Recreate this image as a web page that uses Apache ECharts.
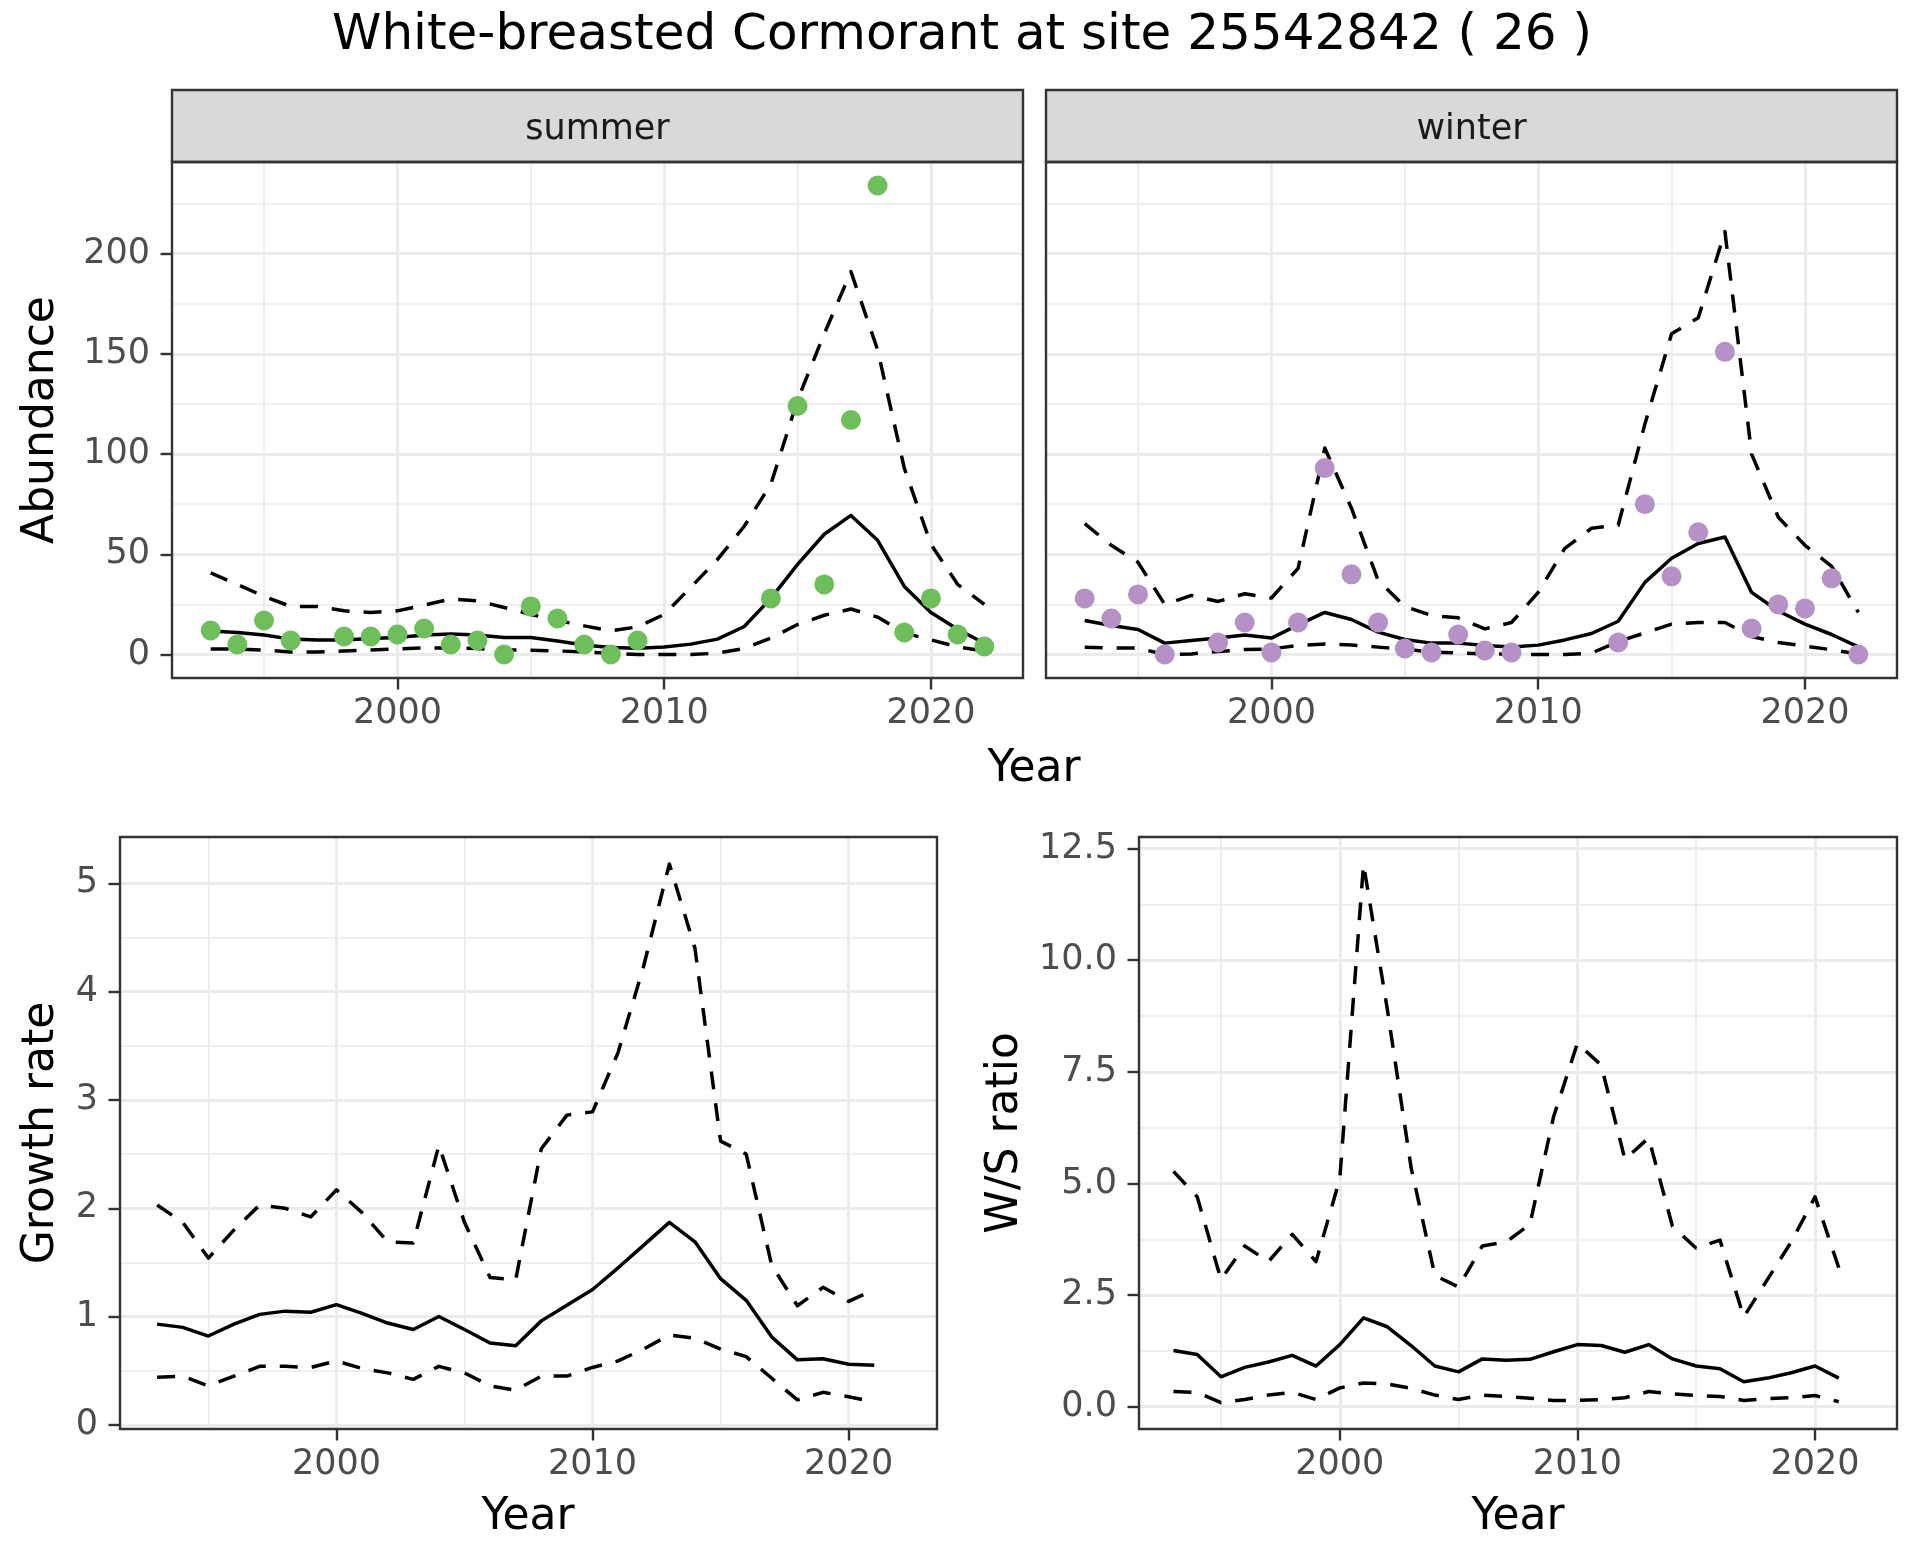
<!DOCTYPE html>
<html>
<head>
<meta charset="utf-8">
<script src="https://cdn.jsdelivr.net/npm/echarts@6/dist/echarts.min.js"></script>
<style>
html,body{margin:0;padding:0;background:#ffffff;}
#chart{width:1920px;height:1560px;}
</style>
</head>
<body>
<div id="chart"></div>
<script>
// ---------------- DATA ----------------
const years = [1993,1994,1995,1996,1997,1998,1999,2000,2001,2002,2003,2004,2005,2006,2007,2008,2009,2010,2011,2012,2013,2014,2015,2016,2017,2018,2019,2020,2021,2022];

const summerObs  = [12,5,17,7,null,9,9,10,13,5,7,0,24,18,5,0,7,null,null,null,null,28,124,35,117,234,11,28,10,4];
const summerMean = [11.8,11,9.7,7.7,7.2,7.3,8,8.5,9.7,10.2,9.7,8.5,8.5,6.8,4.8,3.5,3.2,3.8,5.2,7.7,14,28,45,60,69.4,57,34,21,12.6,5.6];
const summerLow  = [2.8,2.8,2.2,1.3,1.3,1.8,2.3,2.8,3.3,3.3,3,2.3,2.2,1.8,1.3,0.7,0,0,0,0.7,3,8.2,15,19.6,22.7,18.7,10.8,7.3,3.8,1.7];
const summerHigh = [40.7,35,29,24,24,21.8,21,21.8,24.7,27.7,26.8,23.5,20,17,14.3,11.8,13.8,20,33.6,47.5,64,85,127,160,191,152,93,55,35,25];

const winterObs  = [28,18,30,0,null,6,16,1,16,93,40,16,3,1,10,2,1,null,null,null,6,75,39,61,151,13,25,23,38,0];
const winterMean = [17,14.5,12.5,5.7,7,8.2,9.8,8.2,14.8,21,17.5,11.2,7.5,5.7,5.7,4.5,3.8,4.7,7.3,10.5,16.6,36,48,55.4,58.6,31,21.7,15.2,10,3.8];
const winterLow  = [3.7,3.3,3.2,0,0.3,1.5,2.5,2.8,4.5,5.3,4.8,3.7,2.8,1.2,0.8,0.3,0.3,0,0,0.7,6.5,10.8,15.2,16,16,9,6,4.2,2.4,0.3];
const winterHigh = [65.3,54.5,46,25,29.5,26.5,30.3,28.2,43,103,73,37,24,19.5,18.3,12.8,16,31,53,63,64.5,115,160,168,211,100,68.5,54.5,44,21];

const rateYears = [1993,1994,1995,1996,1997,1998,1999,2000,2001,2002,2003,2004,2005,2006,2007,2008,2009,2010,2011,2012,2013,2014,2015,2016,2017,2018,2019,2020,2021];
const growthMean = [0.93,0.90,0.82,0.93,1.02,1.05,1.04,1.11,1.03,0.94,0.88,1.00,0.88,0.755,0.73,0.96,1.105,1.25,1.45,1.66,1.87,1.69,1.35,1.15,0.81,0.60,0.61,0.56,0.55];
const growthLow  = [0.44,0.45,0.36,0.45,0.54,0.54,0.53,0.59,0.52,0.48,0.42,0.54,0.48,0.36,0.32,0.45,0.45,0.53,0.59,0.70,0.83,0.80,0.70,0.63,0.43,0.23,0.30,0.26,0.21];
const growthHigh = [2.03,1.87,1.54,1.80,2.03,2.0,1.92,2.17,1.96,1.69,1.68,2.58,1.87,1.36,1.34,2.55,2.86,2.89,3.44,4.24,5.18,4.4,2.62,2.5,1.47,1.1,1.27,1.14,1.25];

const ratioMean = [1.26,1.17,0.67,0.88,1.0,1.15,0.91,1.39,1.99,1.79,1.37,0.91,0.78,1.07,1.04,1.06,1.23,1.39,1.37,1.22,1.39,1.07,0.91,0.85,0.56,0.64,0.76,0.91,0.64];
const ratioLow  = [0.34,0.32,0.09,0.16,0.26,0.32,0.16,0.42,0.53,0.51,0.41,0.26,0.16,0.26,0.23,0.19,0.14,0.14,0.16,0.2,0.34,0.29,0.25,0.23,0.14,0.18,0.2,0.25,0.11];
const ratioHigh = [5.27,4.7,2.85,3.6,3.25,3.86,3.25,5.1,12.15,8.9,5.36,2.94,2.68,3.6,3.69,4.08,6.5,8.14,7.65,5.54,6.02,4.04,3.55,3.73,2.01,2.85,3.69,4.7,3.11];

const yearTicks = [2000, 2010, 2020];
const abundanceTicks = [0, 50, 100, 150, 200];
const growthTicks = [0, 1, 2, 3, 4, 5];
const ratioTicks = [0, 2.5, 5, 7.5, 10, 12.5];

const titleText = 'White-breasted Cormorant at site 25542842 ( 26 )';
const facetNames = ['summer', 'winter'];

// ---------------- LAYOUT / STYLE ----------------
const FONT = 'DejaVu Sans';
const panels = [
  {left: 172, top: 162, width: 851, height: 516},   // summer
  {left: 1046, top: 162, width: 851, height: 516},  // winter
  {left: 120, top: 837, width: 817, height: 592},   // growth
  {left: 1139, top: 837, width: 758, height: 592}   // ratio
];
const stripTop = 90, stripH = 72;
const green = '#6FBE5C', purple = '#B591C8';
const grid92 = '#EBEBEB', dark = '#333333';

function pairs(xs, ys) { return xs.map((x, i) => [x, ys[i]]); }

function xAxisFor(gi) {
  return {
    type: 'value', gridIndex: gi, position: 'bottom', min: 1991.55, max: 2023.45,
    minInterval: 10, maxInterval: 10, splitNumber: 3,
    axisLine: {show: false, onZero: false},
    axisTick: {show: true, inside: false, customValues: yearTicks, length: 11.5, lineStyle: {color: dark, width: 2.4}},
    axisLabel: {show: true, customValues: yearTicks, margin: 18, fontFamily: FONT, fontSize: 35, color: '#4D4D4D',
      formatter: v => String(Math.round(v))},
    splitLine: {show: true, lineStyle: {color: grid92, width: 3}},
    minorTick: {show: false, splitNumber: 2},
    minorSplitLine: {show: true, lineStyle: {color: grid92, width: 1.7}}
  };
}
function yAxisFor(gi, min, max, step, ticks, showLabels, fmt) {
  return {
    type: 'value', gridIndex: gi, position: 'left', min: min, max: max,
    minInterval: step, maxInterval: step, splitNumber: 5,
    axisLine: {show: false, onZero: false},
    axisTick: {show: showLabels, inside: false, customValues: ticks, length: 11.5, lineStyle: {color: dark, width: 2.4}},
    axisLabel: {show: showLabels, customValues: ticks, margin: 22, fontFamily: FONT, fontSize: 35, color: '#4D4D4D',
      formatter: fmt || (v => String(v))},
    splitLine: {show: true, lineStyle: {color: grid92, width: 3}},
    minorTick: {show: false, splitNumber: 2},
    minorSplitLine: {show: true, lineStyle: {color: grid92, width: 1.7}}
  };
}
function lineSeries(gi, xs, ys, dashed) {
  return {
    type: 'line', xAxisIndex: gi, yAxisIndex: gi, data: pairs(xs, ys),
    showSymbol: false, symbol: 'none', connectNulls: false, z: 3,
    lineStyle: {color: '#000000', width: 3.5, type: dashed ? [18, 14] : 'solid', cap: 'butt', join: 'round'},
    emphasis: {disabled: true}, animation: false
  };
}
function pointSeries(gi, xs, ys, color) {
  return {
    type: 'scatter', xAxisIndex: gi, yAxisIndex: gi,
    data: pairs(xs, ys).filter(p => p[1] !== null),
    symbol: 'circle', symbolSize: 20, itemStyle: {color: color, opacity: 1}, z: 4,
    emphasis: {disabled: true}, animation: false
  };
}

const graphics = [];
graphics.push({type: 'text', x: 962, y: 36, z: 100,
  style: {text: titleText, fontFamily: FONT, fontSize: 50, fill: '#000000', textAlign: 'center', textVerticalAlign: 'middle'}});
[0, 1].forEach(i => {
  const p = panels[i];
  graphics.push({type: 'rect', z: 100, shape: {x: p.left, y: stripTop, width: p.width, height: stripH},
    style: {fill: '#D9D9D9', stroke: dark, lineWidth: 2.4}});
  graphics.push({type: 'text', z: 101, x: p.left + p.width / 2, y: stripTop + stripH / 2 + 4,
    style: {text: facetNames[i], fontFamily: FONT, fontSize: 35, fill: '#1A1A1A', textAlign: 'center', textVerticalAlign: 'middle'}});
});
panels.forEach(p => {
  graphics.push({type: 'rect', z: 100, silent: true, shape: {x: p.left, y: p.top, width: p.width, height: p.height},
    style: {fill: null, stroke: dark, lineWidth: 2.4}});
});
function axisTitle(text, x, y, rotate) {
  graphics.push({type: 'text', z: 100, x: x, y: y, rotation: rotate ? Math.PI / 2 : 0,
    style: {text: text, fontFamily: FONT, fontSize: 44, fill: '#000000', textAlign: 'center', textVerticalAlign: 'middle'}});
}
axisTitle('Abundance', 42, 420, true);
axisTitle('Year', 1034, 770, false);
axisTitle('Growth rate', 42, 1133, true);
axisTitle('W/S ratio', 1006, 1133, true);
axisTitle('Year', 528, 1518, false);
axisTitle('Year', 1518, 1518, false);

const option = {
  animation: false,
  backgroundColor: '#ffffff',
  grid: panels.map(p => ({left: p.left, top: p.top, width: p.width, height: p.height, containLabel: false,
    show: true, backgroundColor: '#ffffff', borderWidth: 0})),
  xAxis: [xAxisFor(0), xAxisFor(1), xAxisFor(2), xAxisFor(3)],
  yAxis: [
    yAxisFor(0, -11.7, 245.7, 50, abundanceTicks, true),
    yAxisFor(1, -11.7, 245.7, 50, abundanceTicks, false),
    yAxisFor(2, -0.0385, 5.4285, 1, growthTicks, true),
    yAxisFor(3, -0.5, 12.76, 2.5, ratioTicks, true, v => Number(v).toFixed(1))
  ],
  series: [
    lineSeries(0, years, summerMean, false),
    lineSeries(0, years, summerLow, true),
    lineSeries(0, years, summerHigh, true),
    pointSeries(0, years, summerObs, green),
    lineSeries(1, years, winterMean, false),
    lineSeries(1, years, winterLow, true),
    lineSeries(1, years, winterHigh, true),
    pointSeries(1, years, winterObs, purple),
    lineSeries(2, rateYears, growthMean, false),
    lineSeries(2, rateYears, growthLow, true),
    lineSeries(2, rateYears, growthHigh, true),
    lineSeries(3, rateYears, ratioMean, false),
    lineSeries(3, rateYears, ratioLow, true),
    lineSeries(3, rateYears, ratioHigh, true)
  ],
  graphic: graphics
};

const chart = echarts.init(document.getElementById('chart'), null, {renderer: 'canvas', width: 1920, height: 1560});
chart.setOption(option);
</script>
</body>
</html>
